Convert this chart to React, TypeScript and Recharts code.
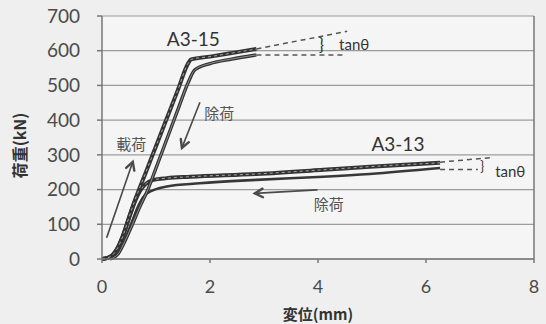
import React from "react"
import {
  CartesianGrid,
  Label,
  Line,
  LineChart,
  ReferenceDot,
  ReferenceLine,
  XAxis,
  YAxis,
} from "recharts"

// tick values
const xTicks = [0, 2, 4, 6, 8]
const yTicks = [0, 100, 200, 300, 400, 500, 600, 700]

// A3-15 loading / unloading (displacement mm, load kN)
const a315Load = [
  { x: 0, y: 0 },
  { x: 0.1, y: 3 },
  { x: 0.2, y: 12 },
  { x: 0.3, y: 35 },
  { x: 0.4, y: 72 },
  { x: 0.5, y: 120 },
  { x: 0.6, y: 165 },
  { x: 0.8, y: 245 },
  { x: 1.0, y: 325 },
  { x: 1.2, y: 405 },
  { x: 1.4, y: 485 },
  { x: 1.6, y: 565 },
  { x: 1.65, y: 575 },
  { x: 2.0, y: 583 },
  { x: 2.4, y: 593 },
  { x: 2.86, y: 605 },
]
const a315Unload = [
  { x: 0.15, y: 0 },
  { x: 0.3, y: 15 },
  { x: 0.42, y: 50 },
  { x: 0.55, y: 95 },
  { x: 0.7, y: 150 },
  { x: 0.85, y: 200 },
  { x: 1.0, y: 262 },
  { x: 1.2, y: 345 },
  { x: 1.4, y: 428 },
  { x: 1.6, y: 510 },
  { x: 1.72, y: 545 },
  { x: 2.0, y: 563 },
  { x: 2.4, y: 576 },
  { x: 2.86, y: 588 },
]

// A3-13 loading / unloading
const a313Load = [
  { x: 0, y: 0 },
  { x: 0.1, y: 3 },
  { x: 0.2, y: 12 },
  { x: 0.3, y: 35 },
  { x: 0.4, y: 72 },
  { x: 0.5, y: 118 },
  { x: 0.6, y: 162 },
  { x: 0.7, y: 195 },
  { x: 0.8, y: 215 },
  { x: 0.95, y: 228 },
  { x: 1.2, y: 233 },
  { x: 1.63, y: 237 },
  { x: 2.86, y: 245 },
  { x: 4.1, y: 257 },
  { x: 4.96, y: 266 },
  { x: 6.26, y: 277 },
]
const a313Unload = [
  { x: 0.15, y: 0 },
  { x: 0.3, y: 18 },
  { x: 0.42, y: 55 },
  { x: 0.55, y: 105 },
  { x: 0.68, y: 155 },
  { x: 0.83, y: 189 },
  { x: 1.2, y: 209 },
  { x: 1.81, y: 218 },
  { x: 2.86, y: 228 },
  { x: 4.1, y: 237 },
  { x: 4.96, y: 245 },
  { x: 6.26, y: 262 },
]

// tanθ dashed guide lines
const guides = [
  [{ x: 2.86, y: 605 }, { x: 4.54, y: 656 }],
  [{ x: 2.86, y: 588 }, { x: 4.46, y: 588 }],
  [{ x: 6.26, y: 279 }, { x: 7.22, y: 292 }],
  [{ x: 6.26, y: 258 }, { x: 6.96, y: 258 }],
]

// arrows (tail -> head)
const arrows = [
  [{ x: 0.09, y: 63 }, { x: 0.57, y: 280 }],
  [{ x: 1.81, y: 450 }, { x: 1.48, y: 320 }],
  [{ x: 3.98, y: 199 }, { x: 2.83, y: 189 }],
]

// text annotations
const notes = [
  { x: 1.69, y: 635, text: "A3-15", size: 19, latin: true },
  { x: 5.48, y: 333, text: "A3-13", size: 19, latin: true },
  { x: 0.54, y: 333, text: "載荷", size: 15, latin: false },
  { x: 2.17, y: 423, text: "除荷", size: 15, latin: false },
  { x: 4.2, y: 160, text: "除荷", size: 15, latin: false },
  { x: 4.67, y: 620, text: "tanθ", size: 15, latin: true },
  { x: 7.56, y: 254, text: "tanθ", size: 15, latin: true },
  { x: 4.06, y: 617, text: "}", size: 17, latin: true },
  { x: 7.04, y: 268, text: "}", size: 13, latin: true },
]

const latinFont = "Lato, 'Open Sans', sans-serif"
const cjkFont = "'Noto Sans CJK JP', sans-serif"

const ArrowShape = (props: any) => {
  const { x1, y1, x2, y2 } = props
  const a = Math.atan2(y2 - y1, x2 - x1)
  const len = 9
  const spread = 0.5
  const hx1 = x2 - len * Math.cos(a - spread)
  const hy1 = y2 - len * Math.sin(a - spread)
  const hx2 = x2 - len * Math.cos(a + spread)
  const hy2 = y2 - len * Math.sin(a + spread)
  return (
    <g stroke="#4a4a4a" strokeWidth={1.6} fill="none" strokeLinecap="round">
      <line x1={x1} y1={y1} x2={x2} y2={y2} />
      <polyline points={`${hx1},${hy1} ${x2},${y2} ${hx2},${hy2}`} strokeWidth={2.4} />
    </g>
  )
}

const YTitle = (props: any) => {
  const vb = props.viewBox || { x: 0, y: 16, width: 102, height: 243 }
  const cx = vb.x + 19
  const cy = vb.y + vb.height / 2 + 8
  return (
    <text
      x={cx}
      y={cy}
      transform={`rotate(-90, ${cx}, ${cy})`}
      textAnchor="middle"
      dominantBaseline="central"
      fontFamily={cjkFont}
      fontWeight="bold"
      fontSize={16}
      fill="#333"
    >
      荷重(kN)
    </text>
  )
}

export default function App() {
  const tickStyle = { fontFamily: latinFont, fontSize: 18, fill: "#4a4a4a" }
  return (
    <div
      style={{
        position: "absolute",
        left: 0,
        top: 0,
        width: 546,
        height: 324,
        background: "#efefef",
      }}
    >
      <LineChart width={546} height={324} margin={{ top: 16, right: 12, left: 0, bottom: 0 }}>
        <CartesianGrid vertical={false} stroke="#9c9c9c" strokeWidth={1.2} fill="#f5f5f5" />
        <XAxis
          type="number"
          dataKey="x"
          domain={[0, 8]}
          ticks={xTicks}
          height={65}
          tickSize={4}
          tickMargin={17}
          stroke="#777"
          strokeWidth={1.5}
          tick={tickStyle}
        >
          <Label
            value="変位(mm)"
            position="insideBottom"
            offset={4}
            style={{ fontFamily: cjkFont, fontWeight: "bold", fontSize: 15, fill: "#333" }}
          />
        </XAxis>
        <YAxis
          type="number"
          domain={[0, 700]}
          ticks={yTicks}
          width={102}
          tickSize={5}
          tickMargin={17}
          stroke="#777"
          strokeWidth={1.5}
          tick={{ ...tickStyle, fontSize: 19 }}
        >
          <Label content={<YTitle />} />
        </YAxis>
        <ReferenceLine x={8} stroke="#777" strokeWidth={1.5} />

        <Line data={a313Unload} dataKey="y" type="monotone" stroke="#383838" strokeWidth={2.6} dot={false} activeDot={false} isAnimationActive={false} />
        <Line data={a313Load} dataKey="y" type="monotone" stroke="#333" strokeWidth={4} dot={false} activeDot={false} isAnimationActive={false} />
        <Line data={a313Load} dataKey="y" type="monotone" stroke="#a8a8a8" strokeWidth={1} strokeDasharray="3 3" dot={false} activeDot={false} isAnimationActive={false} />
        <Line data={a315Unload} dataKey="y" type="monotone" stroke="#333" strokeWidth={3.4} dot={false} activeDot={false} isAnimationActive={false} />
        <Line data={a315Unload} dataKey="y" type="monotone" stroke="#9a9a9a" strokeWidth={0.9} dot={false} activeDot={false} isAnimationActive={false} />
        <Line data={a315Load} dataKey="y" type="monotone" stroke="#333" strokeWidth={4} dot={false} activeDot={false} isAnimationActive={false} />
        <Line data={a315Load} dataKey="y" type="monotone" stroke="#a8a8a8" strokeWidth={1} strokeDasharray="3 3" dot={false} activeDot={false} isAnimationActive={false} />

        {guides.map((seg, i) => (
          <ReferenceLine key={`g${i}`} segment={seg} stroke="#555" strokeWidth={1.5} strokeDasharray="5 4" />
        ))}
        {arrows.map((seg, i) => (
          <ReferenceLine key={`a${i}`} segment={seg} shape={(p: any) => <ArrowShape {...p} />} />
        ))}
        {notes.map((n, i) => (
          <ReferenceDot
            key={`n${i}`}
            x={n.x}
            y={n.y}
            r={1}
            shape={(p: any) => (
              <text
                x={p.cx}
                y={p.cy}
                textAnchor="middle"
                dominantBaseline="central"
                fontFamily={n.latin ? latinFont : cjkFont}
                fontSize={n.size}
                fill={n.latin ? "#333" : "#555"}
              >
                {n.text}
              </text>
            )}
          />
        ))}
      </LineChart>
    </div>
  )
}
